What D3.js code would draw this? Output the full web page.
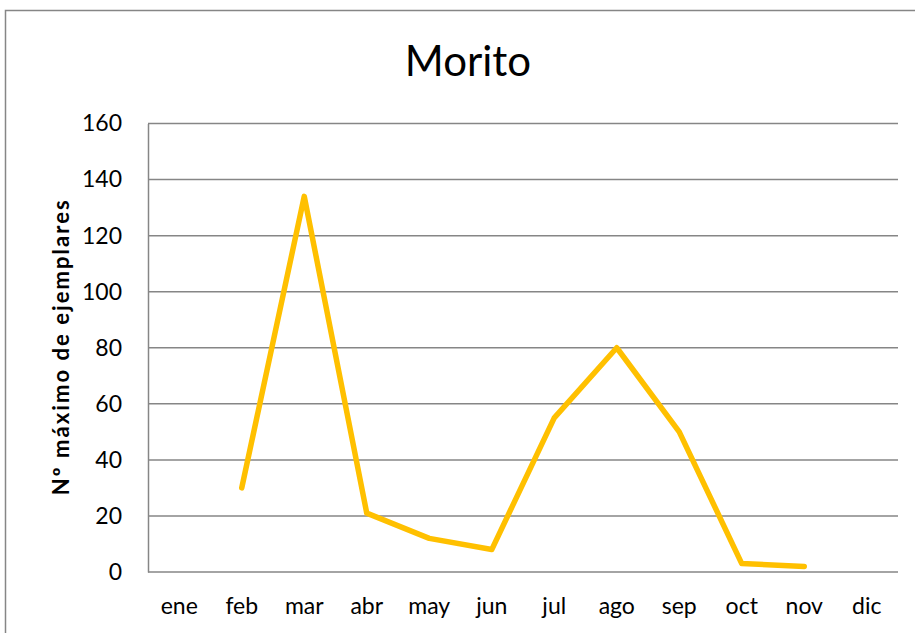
<!DOCTYPE html>
<html>
<head>
<meta charset="utf-8">
<script src="https://cdn.jsdelivr.net/npm/d3@7"></script>
<style>
  body { margin: 0; background: #fff; }
  text { font-family: Lato, "Open Sans", sans-serif; fill: #000; }
</style>
</head>
<body>
<div id="grafico"></div>
<script>
// datos
const meses = ["ene", "feb", "mar", "abr", "may", "jun", "jul", "ago", "sep", "oct", "nov", "dic"];
const ejemplares = [null, 30, 134, 21, 12, 8, 55, 80, 50, 3, 2, null];
const yTicks = [0, 20, 40, 60, 80, 100, 120, 140, 160];

const W = 915, H = 633;
const margin = {top: 123.5, right: 17, bottom: 61, left: 148};
const width = W - margin.left - margin.right;
const height = H - margin.top - margin.bottom;

const svg = d3.select("#grafico")
  .append("svg")
  .attr("width", W)
  .attr("height", H);

// marco del grafico
svg.append("rect")
  .attr("x", 5.5).attr("y", 10.5)
  .attr("width", W + 20).attr("height", H + 20)
  .attr("fill", "none")
  .attr("stroke", "#868686")
  .attr("stroke-width", 1.5);

const g = svg.append("g")
  .attr("transform", `translate(${margin.left},${margin.top})`);

const x = d3.scaleBand().domain(meses).range([0, width]);
const y = d3.scaleLinear().domain([0, 160]).range([height, 0]);

// rejilla
g.append("g")
  .selectAll("line")
  .data(yTicks)
  .enter()
  .append("line")
  .attr("x1", 0).attr("x2", width)
  .attr("y1", d => y(d)).attr("y2", d => y(d))
  .attr("stroke", "#868686")
  .attr("stroke-width", 1.5);

// eje y
const yAxis = g.append("g")
  .call(d3.axisLeft(y).tickValues(yTicks).tickSize(0).tickPadding(26));
yAxis.select(".domain").attr("stroke", "#868686").attr("stroke-width", 1.5);
yAxis.selectAll("text").style("font-size", "23px").style("font-family", "Lato, sans-serif");

// eje x
const xAxis = g.append("g")
  .attr("transform", `translate(0,${height})`)
  .call(d3.axisBottom(x).tickSize(0).tickPadding(26));
xAxis.select(".domain").remove();
xAxis.selectAll("text").style("font-size", "23px").style("font-family", "Lato, sans-serif");

// titulo
svg.append("text")
  .attr("x", 468)
  .attr("y", 76)
  .attr("text-anchor", "middle")
  .style("font-size", "42px")
  .text("Morito");

svg.append("text")
  .attr("transform", `translate(69,${margin.top + height / 2}) rotate(-90)`)
  .attr("text-anchor", "middle")
  .attr("textLength", 295)
  .attr("lengthAdjust", "spacing")
  .style("font-size", "22px")
  .style("font-weight", "bold")
  .text("Nº máximo de ejemplares");

// linea
const line = d3.line()
  .defined(d => d.v != null)
  .x(d => x(d.m) + x.bandwidth() / 2)
  .y(d => y(d.v));

g.append("path")
  .datum(meses.map((m, i) => ({m: m, v: ejemplares[i]})))
  .attr("d", line)
  .attr("fill", "none")
  .attr("stroke", "#FFC000")
  .attr("stroke-width", 5.5)
  .attr("stroke-linecap", "round")
  .attr("stroke-linejoin", "round");
</script>
</body>
</html>
